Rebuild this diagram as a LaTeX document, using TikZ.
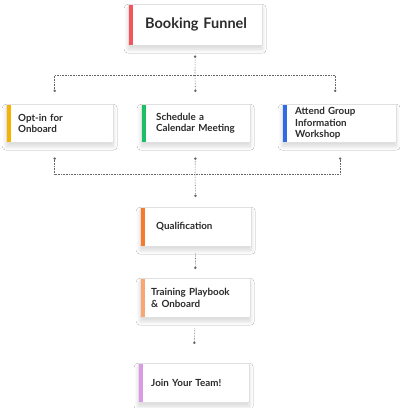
\documentclass[tikz,border=0pt]{standalone}
\usepackage{fontspec}
\setmainfont{Lato}
\usetikzlibrary{arrows.meta,positioning,shadows.blur}
\definecolor{ink}{HTML}{2B2B2B}
\definecolor{redbar}{HTML}{F4555D}
\definecolor{yellowbar}{HTML}{F5B301}
\definecolor{greenbar}{HTML}{1DBF63}
\definecolor{bluebar}{HTML}{2F6BE6}
\definecolor{orangebar}{HTML}{F67B2C}
\definecolor{peachbar}{HTML}{F8A772}
\definecolor{lilacbar}{HTML}{D99BE6}
\tikzset{stage/.style={draw=black!12,fill=white,anchor=north west,align=left,
  font=\bfseries\fontsize{9.8}{11.5}\selectfont,text=ink,inner ysep=0pt,
  execute at begin node={\hyphenpenalty=10000\hbadness=10000\hfuzz=50pt},
  blur shadow={shadow xshift=0pt,shadow yshift=-4pt,shadow blur radius=4pt,
    shadow blur steps=10,shadow opacity=16},
  path picture={\fill[#1] (path picture bounding box.north west)
    rectangle ([xshift=5pt]path picture bounding box.south west);}},
  link/.style={densely dotted,draw=black!60,line width=0.6pt},
  knob/.tip={Circle[length=2.4pt]}}
\begin{document}
\begin{tikzpicture}[x=1pt,y=-1pt]
\fill[white] (0,0) rectangle (400,408);
\useasboundingbox (0,0) rectangle (400,408);
% top of the funnel
\node[stage=redbar,font=\bfseries\fontsize{14.5}{17}\selectfont,
  text width=100pt,inner xsep=17pt,minimum height=41pt] (title) at (128,4) {Booking~Funnel};
% three entry points
\node[stage=yellowbar,text width=83pt,inner xsep=12pt,minimum height=38pt] (optin) at (6,104) {Opt-in~for\\Onboard};
\node[stage=greenbar,text width=79pt,inner xsep=15pt,minimum height=38pt] (sched) at (141,104) {Schedule~a\\Calendar~Meeting};
\node[stage=bluebar,text width=88pt,inner xsep=13pt,minimum height=38pt] (attend) at (282,104) {Attend~Group\\Information\\Workshop};
% then one path down
\node[stage=orangebar,text width=79pt,inner xsep=16pt,minimum height=39pt] (qual) at (140,207) {Qualification};
\node[stage=peachbar,text width=88pt,inner xsep=11pt,minimum height=39pt] (train) at (140,278) {Training~Playbook\\\&~Onboard};
\node[stage=lilacbar,text width=85pt,inner xsep=13pt,minimum height=39pt] (join) at (138,363) {Join~Your~Team!};
\coordinate (split) at (195,75);
\coordinate (merge) at (195,174);
\draw[link,knob-,shorten <=10pt] (title.south) -- (split);
\draw[link,-knob,shorten >=12pt] (split) -| ([xshift=-5pt]optin.north);
\draw[link,-knob,shorten >=12pt] (split) -- (sched.north);
\draw[link,-knob,shorten >=12pt] (split) -| ([xshift=-4pt]attend.north);
\draw[link,knob-,shorten <=15pt] ([xshift=-5pt]optin.south) |- (merge);
\draw[link,knob-,shorten <=15pt] (sched.south) -- (merge);
\draw[link,knob-,shorten <=15pt] ([xshift=1pt]attend.south) |- (merge);
\draw[link,-knob,shorten >=10pt] (merge) -- (qual.north);
\draw[link,-knob,shorten <=7pt,shorten >=9pt] (qual.south) -- (train.north);
\draw[link,-knob,shorten <=11pt,shorten >=19pt] (train.south) -- (join.north);
\end{tikzpicture}
\end{document}
